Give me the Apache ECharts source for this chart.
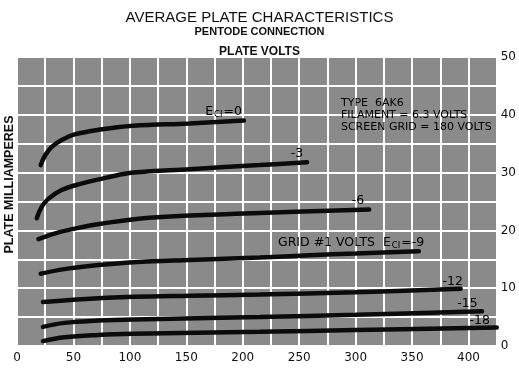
<!DOCTYPE html>
<html><head><meta charset="utf-8">
<script src="https://cdn.jsdelivr.net/npm/echarts@6/dist/echarts.min.js"></script>
<style>html,body{margin:0;padding:0;background:#fff}#c{width:519px;height:369px}</style>
</head><body><div id="c"></div>
<script>
// Plate voltage (V) and plate current (mA) for each grid #1 voltage
const curveNames = ['0', '-3', '-6', '-9', '-12', '-15', '-18'];
const v0 = [21, 25, 31, 40, 51, 72, 103, 153, 201];
const i0 = [31.3, 33.0, 34.5, 35.7, 36.6, 37.4, 38.1, 38.5, 39.0];
const v3 = [17.5, 22, 28, 39.5, 57, 81, 103, 153, 215, 257];
const i3 = [22.1, 24.1, 25.5, 27.0, 28.1, 29.2, 30.0, 30.6, 31.3, 31.8];
const v6 = [19, 34, 51, 73, 117, 215, 312];
const i6 = [18.5, 19.5, 20.3, 21.1, 22.2, 23.0, 23.6];
const v9 = [21, 42, 72, 103, 153, 215, 259, 300, 356];
const i9 = [12.5, 13.3, 14.0, 14.5, 14.9, 15.3, 15.7, 16.0, 16.4];
const v12 = [23, 57, 103, 153, 215, 300, 393];
const i12 = [7.6, 8.1, 8.5, 8.7, 8.9, 9.3, 9.9];
const v15 = [23, 42, 72, 103, 215, 300, 412];
const i15 = [3.3, 4.0, 4.4, 4.6, 5.0, 5.4, 6.0];
const v18 = [23, 42, 72, 103, 215, 300, 425];
const i18 = [0.85, 1.5, 1.9, 2.1, 2.45, 2.75, 3.2];

const xTicks = [0, 50, 100, 150, 200, 250, 300, 350, 400];
const yTicks = [0, 10, 20, 30, 40, 50];

// curve labels: [text, V, mA]
const curveLabels = [
  ['E{s|CI}=0', 183, 40.6],
  ['-3', 248, 33.2],
  ['-6', 302, 25.1],
  ['GRID #1 VOLTS  E{s|CI}=-9', 296, 17.8],
  ['-12', 386, 11.2],
  ['-15', 399, 7.3],
  ['-18', 410, 4.3]
];
const infoLines = ['TYPE  6AK6', 'FILAMENT = 6.3 VOLTS', 'SCREEN GRID = 180 VOLTS'];
const infoPos = [287, 40.0];

const vs = [v0, v3, v6, v9, v12, v15, v18];
const is = [i0, i3, i6, i9, i12, i15, i18];
const FONT = 'Liberation Sans';
const LFONT = 'DejaVu Sans';

const series = vs.map((v, k) => ({
  name: curveNames[k],
  type: 'line',
  smooth: 0.4,
  symbol: 'none',
  data: v.map((x, j) => [x, is[k][j]]),
  lineStyle: { color: '#0b0b0b', width: 4.5, cap: 'round' },
  markPoint: {
    symbol: 'circle', symbolSize: 1,
    itemStyle: { color: 'transparent' },
    data: [{
      coord: [curveLabels[k][1], curveLabels[k][2]],
      label: {
        show: true, position: 'inside',
        formatter: curveLabels[k][0],
        color: '#000', fontFamily: LFONT, fontSize: 12.5,
        rich: { s: { fontSize: 8.5, fontFamily: LFONT, color: '#000', padding: [6, 1, 0, 1] } }
      }
    }].concat(k === 0 ? [{
      coord: infoPos,
      label: {
        show: true, position: 'inside', align: 'left',
        formatter: infoLines.join('\n'), lineHeight: 12,
        color: '#000', fontFamily: LFONT, fontSize: 11
      }
    }] : [])
  }
}));

const chart = echarts.init(document.getElementById('c'), null, { renderer: 'canvas' });
chart.setOption({
  animation: false,
  backgroundColor: '#fff',
  title: [
    { text: 'AVERAGE PLATE CHARACTERISTICS', left: 'center', top: 5,
      textStyle: { fontFamily: FONT, fontSize: 15, fontWeight: 'normal', color: '#111' } },
    { text: 'PENTODE CONNECTION', left: 'center', top: 21,
      textStyle: { fontFamily: FONT, fontSize: 11, fontWeight: 'bold', color: '#111' } },
    { text: 'PLATE VOLTS', left: 'center', top: 41,
      textStyle: { fontFamily: FONT, fontSize: 12, fontWeight: 'bold', color: '#111' } }
  ],
  graphic: [{
    type: 'text', left: 3, top: 'middle', rotation: Math.PI / 2,
    style: { text: 'PLATE MILLIAMPERES', font: 'bold 12.5px "Liberation Sans"', fill: '#111' }
  }],
  grid: { left: 17, right: 20, top: 57, bottom: 23, show: true, backgroundColor: '#8a8a8a', borderWidth: 0 },
  xAxis: {
    type: 'value', min: 0, max: 425, interval: 25,
    axisLine: { show: false }, axisTick: { show: false },
    splitLine: { show: true, lineStyle: { color: '#fff', width: 2 } },
    axisLabel: {
      margin: 6, fontFamily: 'DejaVu Sans', fontSize: 12, color: '#111',
      formatter: v => xTicks.includes(v) ? String(v) : ''
    }
  },
  yAxis: {
    type: 'value', position: 'right', min: 0, max: 50, interval: 5,
    axisLine: { show: false }, axisTick: { show: false },
    splitLine: { show: true, lineStyle: { color: '#fff', width: 2 } },
    axisLabel: {
      margin: 4, fontFamily: 'DejaVu Sans', fontSize: 12, color: '#111',
      formatter: v => yTicks.includes(v) ? String(v) : ''
    }
  },
  series: series
});
</script></body></html>
